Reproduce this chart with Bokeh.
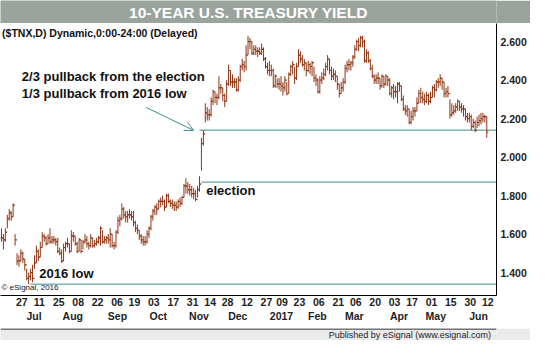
import pandas as pd
from bokeh.plotting import figure
from bokeh.layouts import column
from bokeh.models import (LinearAxis, FixedTicker, NumeralTickFormatter, Label,
                          Arrow, OpenHead, Range1d)
from bokeh.embed import file_html
from bokeh.resources import INLINE
from bokeh.core.properties import value

# ---------------- data ----------------
TITLE = "10-YEAR U.S. TREASURY YIELD"
SUBTITLE = "($TNX,D) Dynamic,0:00-24:00 (Delayed)"
FOOTER = "Published by eSignal (www.esignal.com)"
COPYRIGHT = "\u00a9 eSignal, 2016"

START, END = "2016-06-15", "2017-06-14"
HOLIDAYS = ["2016-07-04", "2016-09-05", "2016-11-11", "2016-11-24", "2016-12-26",
            "2017-01-02", "2017-01-16", "2017-02-20", "2017-04-14", "2017-05-29"]

high = [
    1.63, 1.60, 1.63, 1.70, 1.73, 1.72, 1.76, 1.60, 1.50, 1.49, 1.52, 1.51,  # Jun 16
    1.47, 1.42, 1.40, 1.42, 1.44, 1.49, 1.54, 1.52, 1.56, 1.61, 1.60, 1.59, 1.60, 1.63, 1.59, 1.59, 1.58, 1.58, 1.53, 1.52,  # Jul
    1.55, 1.56, 1.58, 1.55, 1.62, 1.61, 1.59, 1.56, 1.58, 1.57, 1.57, 1.60, 1.59, 1.56, 1.60, 1.58, 1.57, 1.58, 1.59, 1.64, 1.62, 1.59, 1.59,  # Aug
    1.60, 1.63, 1.60, 1.56, 1.62, 1.69, 1.70, 1.76, 1.74, 1.72, 1.72, 1.73, 1.72, 1.72, 1.67, 1.65, 1.62, 1.60, 1.59, 1.59, 1.62,  # Sep
    1.64, 1.70, 1.73, 1.75, 1.76, 1.78, 1.79, 1.80, 1.78, 1.81, 1.81, 1.78, 1.78, 1.77, 1.77, 1.78, 1.79, 1.80, 1.86, 1.89, 1.87,  # Oct
    1.86, 1.85, 1.84, 1.83, 1.85, 1.90, 2.10, 2.14, 2.28, 2.26, 2.25, 2.31, 2.35, 2.34, 2.33, 2.42, 2.38, 2.36, 2.33, 2.40,  # Nov
    2.48, 2.45, 2.43, 2.41, 2.41, 2.42, 2.48, 2.51, 2.50, 2.58, 2.63, 2.62, 2.60, 2.58, 2.58, 2.57, 2.57, 2.59, 2.57, 2.52, 2.49,  # Dec
    2.50, 2.48, 2.46, 2.43, 2.41, 2.41, 2.42, 2.39, 2.42, 2.39, 2.44, 2.48, 2.50, 2.47, 2.49, 2.56, 2.55, 2.53, 2.51, 2.49,  # Jan 17
    2.50, 2.49, 2.50, 2.47, 2.43, 2.41, 2.42, 2.44, 2.46, 2.49, 2.53, 2.51, 2.47, 2.46, 2.45, 2.42, 2.38, 2.39, 2.41,  # Feb
    2.48, 2.50, 2.51, 2.50, 2.53, 2.58, 2.61, 2.62, 2.63, 2.63, 2.61, 2.56, 2.55, 2.51, 2.48, 2.43, 2.43, 2.44, 2.41, 2.43, 2.42, 2.43, 2.42,  # Mar
    2.41, 2.37, 2.38, 2.37, 2.39, 2.39, 2.37, 2.32, 2.27, 2.27, 2.25, 2.24, 2.26, 2.26, 2.31, 2.35, 2.36, 2.34, 2.33,  # Apr
    2.34, 2.33, 2.34, 2.37, 2.38, 2.40, 2.41, 2.43, 2.41, 2.39, 2.36, 2.37, 2.30, 2.28, 2.27, 2.28, 2.30, 2.29, 2.28, 2.27, 2.25, 2.23,  # May
    2.23, 2.22, 2.20, 2.19, 2.21, 2.22, 2.23, 2.23, 2.22, 2.21,  # Jun
]
low = [
    1.56, 1.52, 1.56, 1.63, 1.67, 1.67, 1.69, 1.54, 1.44, 1.43, 1.46, 1.45,
    1.41, 1.36, 1.34, 1.36, 1.35, 1.42, 1.45, 1.46, 1.48, 1.53, 1.56, 1.54, 1.55, 1.55, 1.55, 1.55, 1.54, 1.50, 1.49, 1.45,
    1.46, 1.51, 1.53, 1.50, 1.51, 1.56, 1.54, 1.50, 1.51, 1.50, 1.52, 1.55, 1.53, 1.52, 1.53, 1.53, 1.53, 1.54, 1.55, 1.54, 1.55, 1.55, 1.55,
    1.55, 1.53, 1.53, 1.52, 1.53, 1.60, 1.64, 1.67, 1.68, 1.66, 1.66, 1.68, 1.67, 1.64, 1.61, 1.60, 1.57, 1.55, 1.54, 1.54, 1.55,
    1.58, 1.62, 1.67, 1.70, 1.70, 1.73, 1.74, 1.75, 1.72, 1.74, 1.76, 1.74, 1.73, 1.72, 1.72, 1.73, 1.74, 1.75, 1.79, 1.81, 1.81,
    1.80, 1.79, 1.78, 1.77, 1.79, 1.82, 1.93, 2.06, 2.18, 2.19, 2.19, 2.21, 2.27, 2.28, 2.27, 2.30, 2.33, 2.29, 2.26, 2.29,
    2.37, 2.37, 2.36, 2.36, 2.34, 2.34, 2.39, 2.45, 2.44, 2.45, 2.53, 2.56, 2.53, 2.53, 2.53, 2.52, 2.53, 2.53, 2.50, 2.46, 2.43,
    2.42, 2.42, 2.36, 2.36, 2.36, 2.35, 2.34, 2.32, 2.34, 2.32, 2.33, 2.42, 2.43, 2.38, 2.40, 2.47, 2.49, 2.47, 2.45, 2.42,
    2.44, 2.43, 2.42, 2.39, 2.37, 2.33, 2.33, 2.38, 2.40, 2.42, 2.45, 2.43, 2.40, 2.40, 2.39, 2.35, 2.31, 2.33, 2.34,
    2.38, 2.44, 2.45, 2.45, 2.47, 2.51, 2.55, 2.55, 2.57, 2.57, 2.49, 2.49, 2.49, 2.45, 2.41, 2.38, 2.38, 2.38, 2.35, 2.36, 2.36, 2.37, 2.37,
    2.32, 2.31, 2.30, 2.31, 2.28, 2.34, 2.29, 2.24, 2.22, 2.21, 2.17, 2.17, 2.19, 2.21, 2.24, 2.28, 2.28, 2.28, 2.27,
    2.28, 2.27, 2.28, 2.31, 2.31, 2.34, 2.36, 2.37, 2.35, 2.31, 2.31, 2.31, 2.20, 2.21, 2.22, 2.23, 2.24, 2.24, 2.23, 2.21, 2.19, 2.18,
    2.18, 2.14, 2.15, 2.13, 2.15, 2.16, 2.17, 2.18, 2.18, 2.10,
]
close = [
    1.58, 1.57, 1.61, 1.68, 1.71, 1.69, 1.75, 1.57, 1.46, 1.46, 1.50, 1.47,
    1.44, 1.37, 1.38, 1.40, 1.37, 1.45, 1.51, 1.48, 1.53, 1.59, 1.58, 1.55, 1.58, 1.56, 1.57, 1.57, 1.56, 1.51, 1.50, 1.46,
    1.53, 1.55, 1.55, 1.51, 1.59, 1.59, 1.55, 1.51, 1.57, 1.51, 1.56, 1.57, 1.55, 1.54, 1.58, 1.54, 1.55, 1.56, 1.58, 1.63, 1.56, 1.57, 1.58,
    1.57, 1.60, 1.54, 1.54, 1.61, 1.67, 1.68, 1.73, 1.70, 1.69, 1.70, 1.70, 1.69, 1.66, 1.63, 1.62, 1.59, 1.57, 1.56, 1.56, 1.60,
    1.63, 1.69, 1.72, 1.74, 1.73, 1.77, 1.77, 1.77, 1.74, 1.80, 1.77, 1.76, 1.75, 1.75, 1.74, 1.77, 1.76, 1.79, 1.85, 1.85, 1.83,
    1.83, 1.81, 1.81, 1.78, 1.83, 1.86, 2.07, 2.12, 2.23, 2.22, 2.22, 2.29, 2.34, 2.31, 2.31, 2.36, 2.36, 2.32, 2.29, 2.38,
    2.45, 2.39, 2.39, 2.39, 2.35, 2.40, 2.47, 2.48, 2.47, 2.53, 2.60, 2.60, 2.54, 2.56, 2.55, 2.55, 2.54, 2.56, 2.51, 2.47, 2.45,
    2.45, 2.45, 2.37, 2.42, 2.38, 2.38, 2.37, 2.36, 2.40, 2.33, 2.43, 2.47, 2.48, 2.41, 2.47, 2.53, 2.51, 2.48, 2.49, 2.45,
    2.48, 2.47, 2.49, 2.41, 2.40, 2.34, 2.40, 2.41, 2.43, 2.47, 2.51, 2.45, 2.42, 2.43, 2.42, 2.38, 2.33, 2.36, 2.39,
    2.46, 2.48, 2.48, 2.49, 2.52, 2.56, 2.60, 2.58, 2.62, 2.60, 2.50, 2.54, 2.50, 2.46, 2.42, 2.40, 2.41, 2.41, 2.37, 2.42, 2.38, 2.42, 2.40,
    2.33, 2.36, 2.34, 2.34, 2.38, 2.37, 2.30, 2.25, 2.24, 2.25, 2.18, 2.21, 2.24, 2.24, 2.28, 2.33, 2.31, 2.30, 2.29,
    2.32, 2.29, 2.31, 2.36, 2.35, 2.39, 2.39, 2.41, 2.39, 2.33, 2.34, 2.33, 2.22, 2.23, 2.24, 2.26, 2.29, 2.26, 2.25, 2.25, 2.21, 2.20,
    2.21, 2.16, 2.18, 2.14, 2.18, 2.19, 2.20, 2.21, 2.21, 2.13,
]

Y_TICKS = [1.4, 1.6, 1.8, 2.0, 2.2, 2.4, 2.6]
DAY_TICK_DATES = ["2016-06-27", "2016-07-11", "2016-07-25", "2016-08-08", "2016-08-22",
                  "2016-09-06", "2016-09-19", "2016-10-03", "2016-10-17", "2016-10-31",
                  "2016-11-14", "2016-11-28", "2016-12-12", "2016-12-27", "2017-01-09",
                  "2017-01-23", "2017-02-06", "2017-02-21", "2017-03-06", "2017-03-20",
                  "2017-04-03", "2017-04-17", "2017-05-01", "2017-05-15", "2017-05-30",
                  "2017-06-12"]
MONTHS = ["2016-07", "2016-08", "2016-09", "2016-10", "2016-11", "2016-12",
          "2017-01", "2017-02", "2017-03", "2017-04", "2017-05", "2017-06"]
MONTH_LABELS = ["Jul", "Aug", "Sep", "Oct", "Nov", "Dec", "2017", "Feb", "Mar", "Apr", "May", "Jun"]

# level lines: value, label start date
LEVELS = [2.14, 1.87, 1.34]
LEVEL_START = ["2016-11-08", "2016-11-09", "2016-07-07"]

# ---------------- styles ----------------
FONT = "Liberation Sans"
BAR = "#8e3412"
TEAL = "#3f8f8f"
TITLE_BG = "#9aa49d"
FOOT_BG = "#ebebeb"
W = 530

dates = list(pd.bdate_range(START, END, freq="C", holidays=HOLIDAYS))
n = min(len(dates), len(high), len(low), len(close))
dates = dates[:n]
idx = {d.strftime("%Y-%m-%d"): i for i, d in enumerate(dates)}
xs = list(range(n))
opens = [close[0]] + close[:n - 1]

# ---------------- title bar ----------------
t = figure(width=W, height=23, x_range=(0, 1), y_range=(0, 1), output_backend="svg",
           toolbar_location=None, x_axis_location=None, y_axis_location=None,
           min_border=0, background_fill_color=TITLE_BG, border_fill_color=TITLE_BG,
           outline_line_color=None)
t.grid.visible = False
t.text(x=[0.5], y=[0.46], text=[TITLE], text_align="center", text_baseline="middle",
       text_color="white", text_font=value(FONT), text_font_style="bold",
       text_font_size="15.5px")

# ---------------- main chart ----------------
p = figure(width=W, height=305, x_range=Range1d(-0.5, 255), y_range=Range1d(1.281, 2.694),
           output_backend="svg", toolbar_location=None, x_axis_location=None,
           y_axis_location=None, min_border_left=0, min_border_right=34,
           min_border_top=0, min_border_bottom=33, outline_line_color=None,
           background_fill_color="white", border_fill_color="white")
p.grid.visible = False

# level lines
for lv, sd in zip(LEVELS, LEVEL_START):
    p.segment(x0=[idx[sd]], y0=[lv], x1=[p.x_range.end], y1=[lv], line_color=TEAL, line_width=1)

# OHLC bars
p.segment(x0=xs, y0=low[:n], x1=xs, y1=high[:n], line_color=BAR, line_width=1)
p.segment(x0=[x - 0.8 for x in xs], y0=opens, x1=xs, y1=opens, line_color=BAR, line_width=1)
p.segment(x0=xs, y0=close[:n], x1=[x + 0.8 for x in xs], y1=close[:n], line_color=BAR, line_width=1)

# right axis
yax = LinearAxis(ticker=FixedTicker(ticks=Y_TICKS), formatter=NumeralTickFormatter(format="0.000"))
yax.axis_line_color = "black"
yax.major_tick_line_color = None
yax.minor_tick_line_color = None
yax.major_tick_out = 0
yax.major_label_standoff = 4
yax.major_label_text_font = FONT
yax.major_label_text_font_style = "bold"
yax.major_label_text_font_size = "10.5px"
yax.major_label_text_color = "#222222"
p.add_layout(yax, "right")

# bottom axes: day numbers, then months
day_pos = [round(idx[d] + 2.5, 2) for d in DAY_TICK_DATES]
day_lab = {pos: d[-2:] for pos, d in zip(day_pos, DAY_TICK_DATES)}
xax = LinearAxis(ticker=FixedTicker(ticks=day_pos), major_label_overrides=day_lab)
month_first = [min(i for dstr, i in idx.items() if dstr.startswith(m)) for m in MONTHS]
mon_pos = [round(i + 1.5 * len(lab) + 0.25, 2) for i, lab in zip(month_first, MONTH_LABELS)]
mon_lab = {pos: lab for pos, lab in zip(mon_pos, MONTH_LABELS)}
max_ = LinearAxis(ticker=FixedTicker(ticks=mon_pos), major_label_overrides=mon_lab)
for ax, so in ((xax, 2), (max_, 1)):
    ax.major_tick_line_color = None
    ax.minor_tick_line_color = None
    ax.major_tick_out = 0
    ax.major_tick_in = 0
    ax.major_label_standoff = so
    ax.major_label_text_font = FONT
    ax.major_label_text_font_style = "bold"
    ax.major_label_text_font_size = "10.5px"
    ax.major_label_text_color = "#222222"
xax.axis_line_color = "black"
max_.axis_line_color = None
p.add_layout(xax, "below")
p.add_layout(max_, "below")

# annotations
def lab(x, y, text, size, bold=True, color="#111111"):
    p.add_layout(Label(x=x, y=y, text=text, text_font=FONT, text_font_size=size,
                       text_font_style="bold" if bold else "normal", text_color=color,
                       text_baseline="middle", text_align="left"))

lab(0.3, 2.645, SUBTITLE, "10.5px")
lab(10.5, 2.42, "2/3 pullback from the election", "13px")
lab(10.5, 2.33, "1/3 pullback from 2016 low", "13px")
lab(105.5, 1.827, "election", "13px")
lab(19.5, 1.395, "2016 low", "13px")
lab(0.0, 1.321, COPYRIGHT, "8px", bold=False)

p.add_layout(Arrow(end=OpenHead(size=9, line_color=TEAL, line_width=1),
                   x_start=74.5, y_start=2.258, x_end=99.0, y_end=2.139,
                   line_color=TEAL, line_width=1))

# ---------------- footer ----------------
f = figure(width=W, height=12, x_range=(0, W), y_range=(0, 12), output_backend="svg",
           toolbar_location=None, x_axis_location=None, y_axis_location=None,
           min_border=0, background_fill_color=FOOT_BG, border_fill_color=FOOT_BG,
           outline_line_color=None)
f.grid.visible = False
f.segment(x0=[0], y0=[11.5], x1=[W], y1=[11.5], line_color="black", line_width=1)
f.text(x=[W - 6], y=[5.2], text=[FOOTER], text_align="right", text_baseline="middle",
       text_color="#222222", text_font=value(FONT), text_font_size="9px")

layout = column(t, p, f, spacing=0)
open("out.html", "w").write(file_html(layout, INLINE))
